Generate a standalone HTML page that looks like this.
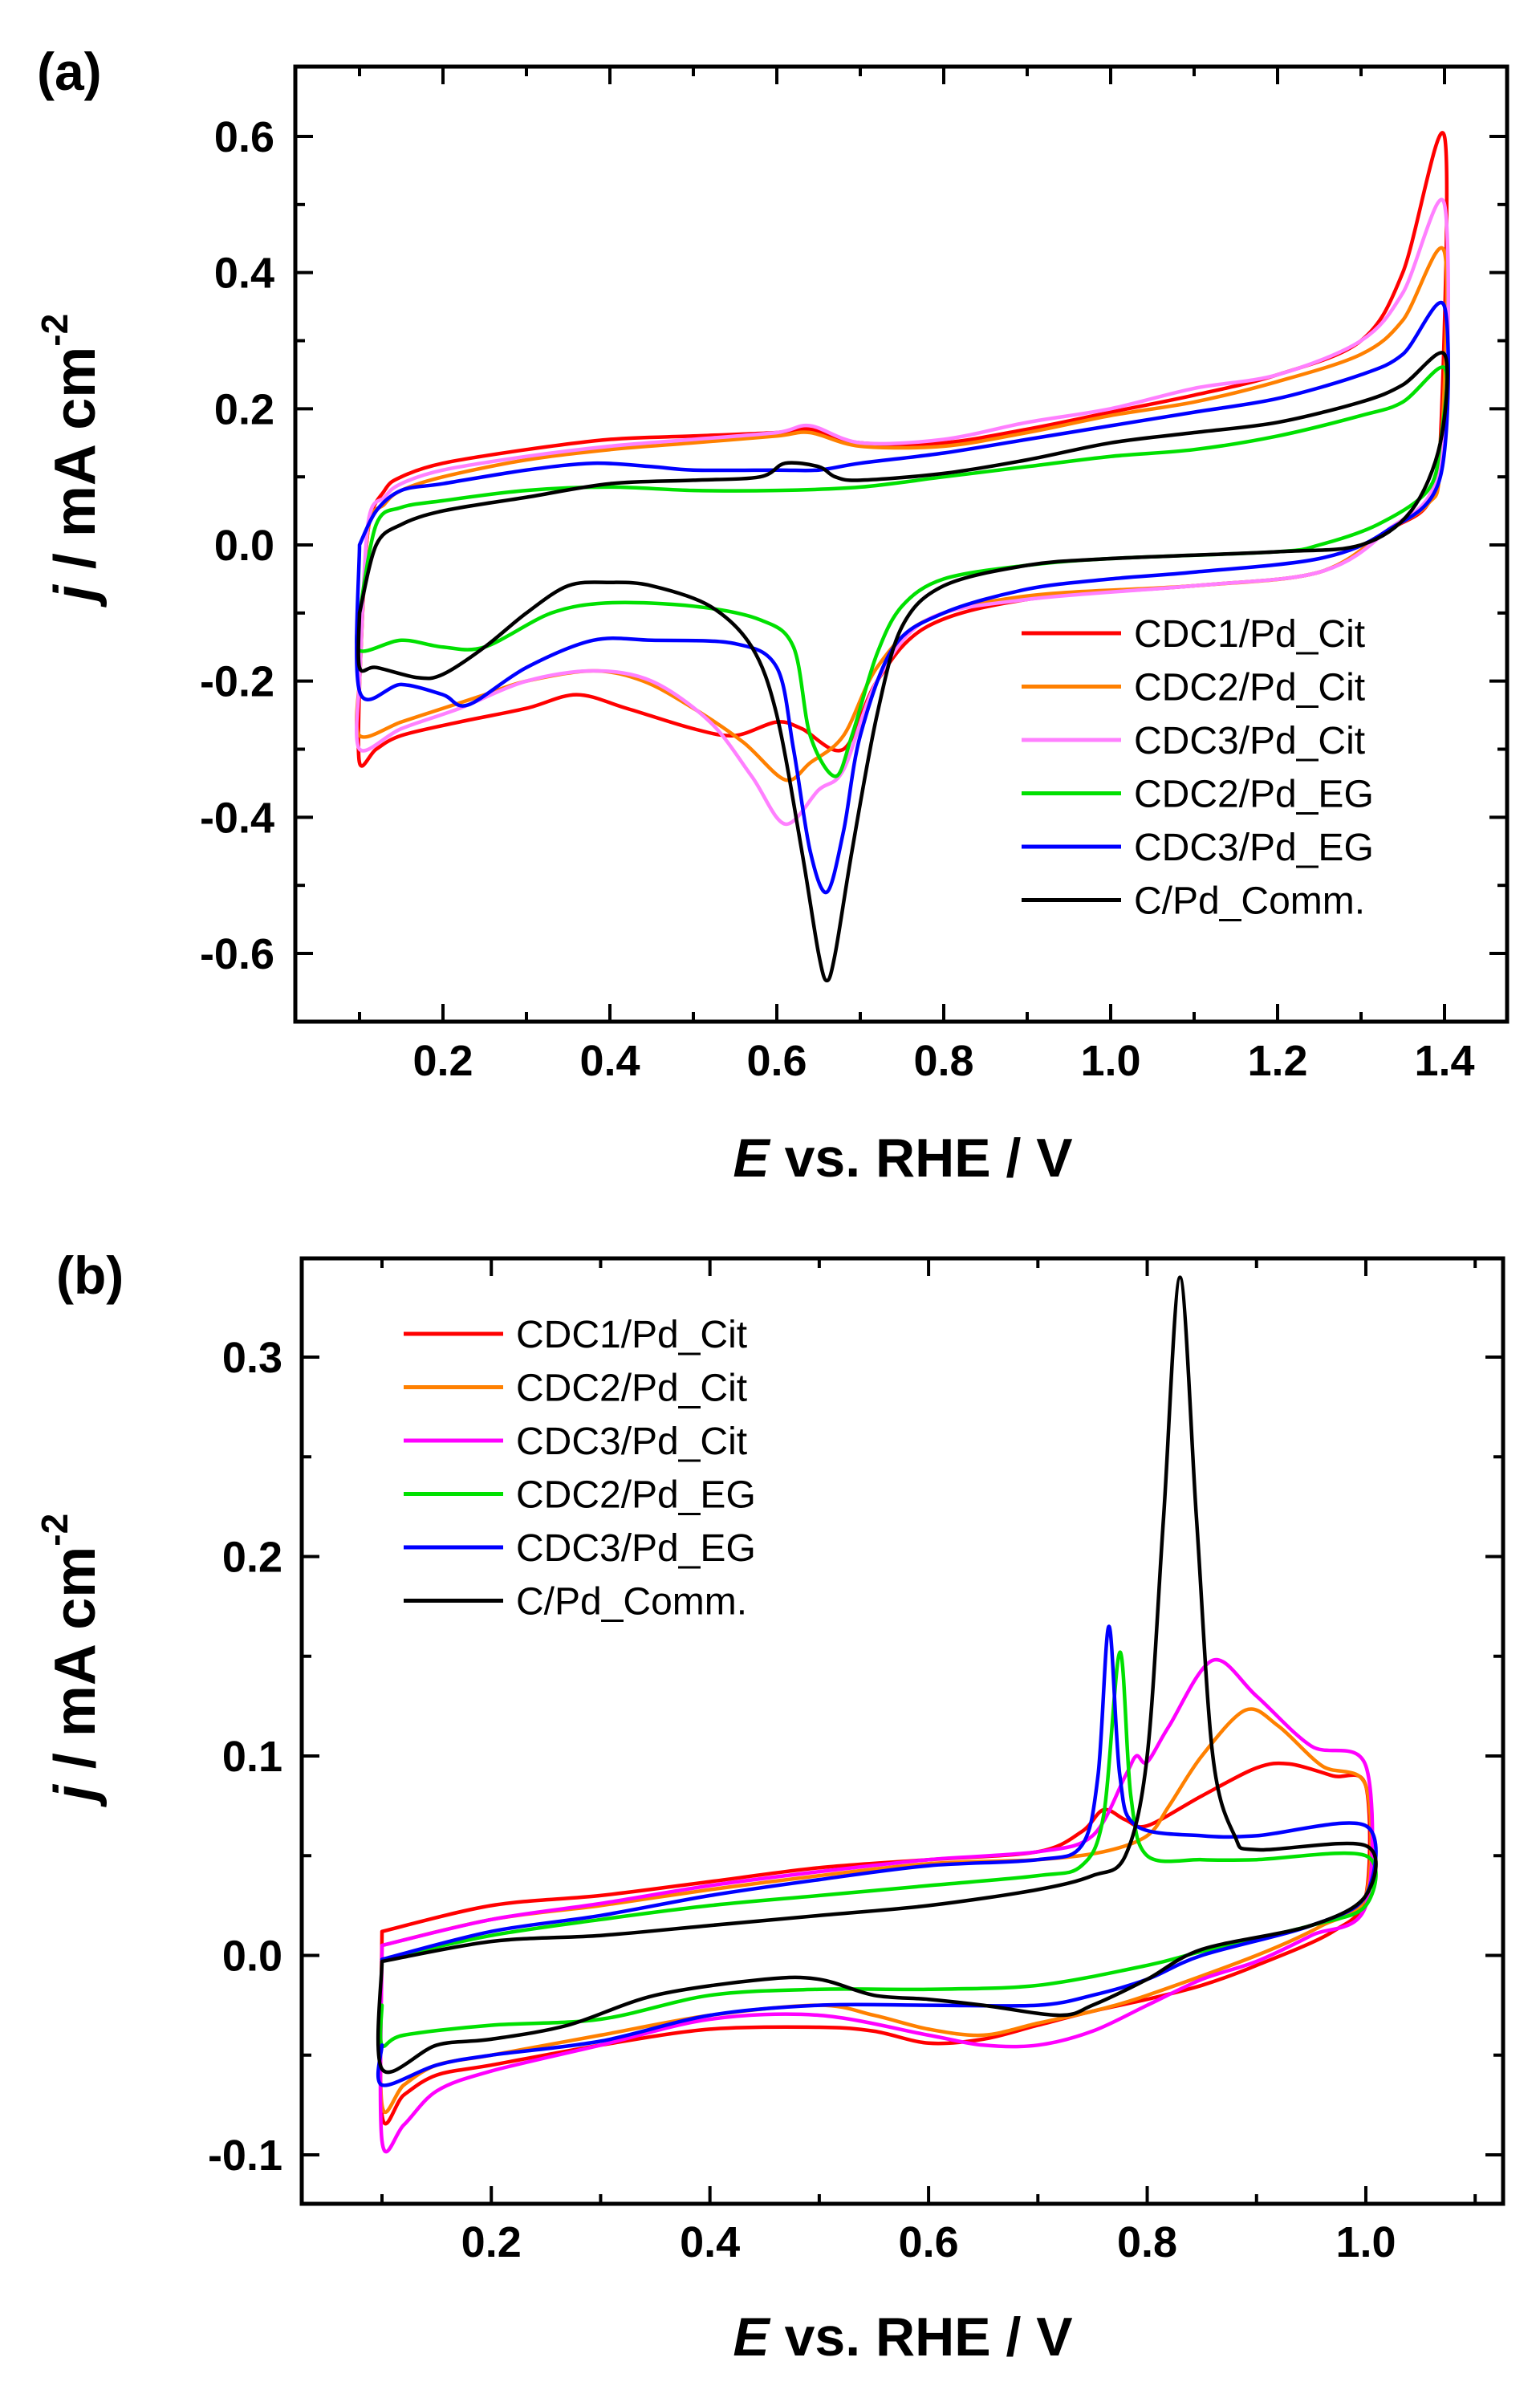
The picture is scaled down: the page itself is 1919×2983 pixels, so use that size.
<!DOCTYPE html>
<html><head><meta charset="utf-8"><style>
html,body{margin:0;padding:0;background:#fff;}
svg{display:block;font-family:"Liberation Sans",Arial,sans-serif;}
</style></head><body>
<svg id="fig" width="1919" height="2983" viewBox="0 0 1919 2983" xmlns="http://www.w3.org/2000/svg">
<rect width="1919" height="2983" fill="#fff"/>
<text x="46" y="112" font-size="66" font-weight="bold">(a)</text>
<text x="70" y="1612" font-size="66" font-weight="bold">(b)</text>
<g id="pa"></g>
<g id="pb"></g>
</svg>
<script>
// ---------- Panel (a) data ----------
const aSeriesNames = ["CDC1/Pd_Cit","CDC2/Pd_Cit","CDC3/Pd_Cit","CDC2/Pd_EG","CDC3/Pd_EG","C/Pd_Comm."];
const aColors = ["#ff0000","#ff8000","#ff80ff","#00e000","#0000ff","#000000"];
const aCdc1E = [0.1,0.11,0.13,0.15,0.2,0.3,0.4,0.5,0.6,0.64,0.7,0.8,0.9,1.0,1.1,1.2,1.3,1.35,1.4,1.395,1.38,1.33,1.25,1.1,0.9,0.78,0.72,0.68,0.63,0.6,0.55,0.5,0.42,0.36,0.3,0.22,0.15,0.12,0.1,0.1];
const aCdc1J = [-0.2,0.02,0.08,0.1,0.12,0.14,0.155,0.16,0.165,0.17,0.15,0.15,0.17,0.195,0.22,0.25,0.3,0.4,0.6,0.15,0.06,0.02,-0.04,-0.06,-0.08,-0.12,-0.2,-0.3,-0.27,-0.26,-0.28,-0.27,-0.24,-0.22,-0.24,-0.26,-0.28,-0.3,-0.32,-0.2];
const aCdc2E = [0.1,0.11,0.13,0.15,0.2,0.3,0.4,0.5,0.6,0.64,0.7,0.8,0.9,1.0,1.1,1.2,1.3,1.35,1.4,1.395,1.38,1.33,1.25,1.1,0.9,0.78,0.72,0.68,0.64,0.61,0.56,0.5,0.44,0.38,0.3,0.25,0.2,0.15,0.1,0.1];
const aCdc2J = [-0.2,0.02,0.06,0.08,0.1,0.125,0.14,0.15,0.16,0.165,0.145,0.145,0.165,0.19,0.21,0.24,0.28,0.33,0.43,0.12,0.06,0.02,-0.04,-0.06,-0.075,-0.11,-0.18,-0.28,-0.32,-0.345,-0.29,-0.24,-0.2,-0.185,-0.2,-0.22,-0.24,-0.26,-0.28,-0.2];
const aCdc3E = [0.1,0.11,0.13,0.15,0.2,0.3,0.4,0.5,0.6,0.64,0.7,0.8,0.9,1.0,1.1,1.2,1.3,1.35,1.4,1.395,1.33,1.25,1.1,0.9,0.78,0.72,0.68,0.65,0.61,0.57,0.52,0.45,0.38,0.3,0.22,0.15,0.1,0.1];
const aCdc3J = [-0.2,0.03,0.07,0.09,0.11,0.13,0.145,0.155,0.165,0.175,0.15,0.155,0.18,0.2,0.23,0.25,0.3,0.37,0.5,0.12,0.02,-0.04,-0.06,-0.08,-0.11,-0.2,-0.33,-0.36,-0.41,-0.34,-0.26,-0.2,-0.185,-0.2,-0.24,-0.27,-0.3,-0.2];
const aEg2E = [0.1,0.12,0.15,0.2,0.3,0.4,0.5,0.6,0.7,0.8,0.9,1.0,1.1,1.2,1.3,1.35,1.4,1.395,1.38,1.32,1.25,1.2,1.0,0.9,0.8,0.75,0.72,0.69,0.67,0.64,0.62,0.58,0.5,0.4,0.33,0.25,0.2,0.15,0.1,0.1];
const aEg2J = [-0.1,0.03,0.055,0.065,0.08,0.085,0.08,0.08,0.085,0.1,0.115,0.13,0.14,0.16,0.19,0.21,0.26,0.15,0.08,0.03,0.0,-0.01,-0.02,-0.03,-0.05,-0.09,-0.16,-0.28,-0.34,-0.28,-0.15,-0.11,-0.09,-0.085,-0.1,-0.15,-0.15,-0.14,-0.155,-0.1];
const aEg3E = [0.1,0.12,0.15,0.2,0.3,0.38,0.45,0.5,0.6,0.65,0.7,0.8,0.9,1.0,1.1,1.2,1.3,1.35,1.4,1.395,1.33,1.25,1.1,1.0,0.9,0.8,0.74,0.7,0.68,0.66,0.64,0.62,0.6,0.55,0.45,0.38,0.3,0.23,0.2,0.15,0.1,0.1];
const aEg3J = [0.0,0.05,0.08,0.09,0.11,0.12,0.115,0.11,0.11,0.11,0.12,0.135,0.155,0.175,0.195,0.215,0.25,0.28,0.35,0.1,0.02,-0.02,-0.04,-0.05,-0.065,-0.1,-0.15,-0.28,-0.42,-0.51,-0.45,-0.3,-0.18,-0.145,-0.14,-0.14,-0.18,-0.235,-0.22,-0.205,-0.215,0.0];
const aCommE = [0.1,0.12,0.15,0.2,0.3,0.4,0.5,0.58,0.61,0.65,0.67,0.7,0.8,0.9,1.0,1.1,1.2,1.3,1.35,1.4,1.395,1.36,1.3,1.2,1.0,0.9,0.8,0.75,0.72,0.69,0.67,0.66,0.65,0.63,0.6,0.57,0.52,0.45,0.4,0.35,0.3,0.25,0.2,0.17,0.12,0.1,0.1];
const aCommJ = [-0.1,0.0,0.03,0.05,0.07,0.09,0.095,0.1,0.12,0.115,0.1,0.095,0.105,0.125,0.15,0.165,0.18,0.21,0.235,0.28,0.15,0.05,0.0,-0.01,-0.02,-0.03,-0.06,-0.12,-0.25,-0.45,-0.6,-0.64,-0.6,-0.45,-0.25,-0.15,-0.09,-0.06,-0.055,-0.06,-0.1,-0.15,-0.19,-0.195,-0.18,-0.18,-0.1];
const aXTicks = [0.2,0.4,0.6,0.8,1.0,1.2,1.4];
const aYTicks = [-0.6,-0.4,-0.2,0.0,0.2,0.4,0.6];

// ---------- Panel (b) data ----------
const bSeriesNames = ["CDC1/Pd_Cit","CDC2/Pd_Cit","CDC3/Pd_Cit","CDC2/Pd_EG","CDC3/Pd_EG","C/Pd_Comm."];
const bColors = ["#ff0000","#ff8000","#ff00ff","#00e000","#0000ff","#000000"];
const bCdc1E = [0.1,0.2,0.3,0.4,0.5,0.6,0.7,0.74,0.76,0.78,0.8,0.85,0.9,0.93,0.97,1.0,1.0,0.97,0.9,0.85,0.8,0.75,0.7,0.65,0.6,0.55,0.5,0.4,0.3,0.2,0.15,0.12,0.1,0.1];
const bCdc1J = [0.012,0.025,0.03,0.037,0.044,0.048,0.052,0.062,0.073,0.068,0.065,0.08,0.094,0.096,0.09,0.085,0.03,0.012,-0.005,-0.015,-0.022,-0.028,-0.035,-0.042,-0.044,-0.038,-0.036,-0.037,-0.045,-0.055,-0.06,-0.07,-0.08,0.012];
const bCdc2E = [0.1,0.2,0.3,0.4,0.5,0.6,0.7,0.76,0.8,0.82,0.85,0.89,0.92,0.96,1.0,1.0,0.96,0.9,0.8,0.75,0.7,0.65,0.6,0.55,0.5,0.4,0.3,0.2,0.15,0.12,0.1,0.1];
const bCdc2J = [0.005,0.018,0.025,0.033,0.04,0.046,0.048,0.052,0.06,0.075,0.1,0.123,0.115,0.095,0.085,0.03,0.015,0.0,-0.02,-0.028,-0.034,-0.04,-0.037,-0.03,-0.025,-0.03,-0.04,-0.05,-0.055,-0.065,-0.075,0.005];
const bCdc3E = [0.1,0.2,0.3,0.4,0.5,0.6,0.7,0.75,0.78,0.79,0.8,0.82,0.86,0.9,0.95,1.0,1.0,0.95,0.9,0.85,0.8,0.75,0.7,0.65,0.6,0.5,0.4,0.3,0.2,0.15,0.12,0.1,0.1];
const bCdc3J = [0.005,0.018,0.026,0.035,0.042,0.048,0.052,0.06,0.09,0.1,0.097,0.115,0.148,0.13,0.105,0.095,0.025,0.01,-0.003,-0.012,-0.025,-0.038,-0.045,-0.045,-0.04,-0.03,-0.032,-0.045,-0.058,-0.068,-0.085,-0.093,0.005];
const bEg2E = [0.1,0.2,0.3,0.4,0.5,0.6,0.7,0.74,0.76,0.775,0.785,0.8,0.85,0.9,1.0,1.0,0.95,0.85,0.8,0.7,0.6,0.5,0.4,0.3,0.2,0.12,0.1,0.1];
const bEg2J = [-0.002,0.01,0.018,0.025,0.03,0.035,0.04,0.045,0.07,0.152,0.08,0.05,0.048,0.048,0.05,0.025,0.015,0.002,-0.005,-0.015,-0.017,-0.017,-0.02,-0.032,-0.035,-0.04,-0.045,-0.025];
const bEg3E = [0.1,0.2,0.3,0.4,0.5,0.6,0.7,0.74,0.755,0.765,0.775,0.79,0.85,0.9,1.0,1.0,0.95,0.85,0.8,0.75,0.7,0.6,0.5,0.4,0.3,0.2,0.15,0.1,0.1];
const bEg3J = [-0.002,0.012,0.02,0.03,0.038,0.045,0.048,0.055,0.09,0.165,0.09,0.065,0.06,0.06,0.065,0.03,0.015,0.0,-0.012,-0.02,-0.025,-0.025,-0.025,-0.03,-0.043,-0.05,-0.055,-0.065,-0.045];
const bCommE = [0.1,0.2,0.3,0.4,0.5,0.6,0.7,0.75,0.78,0.8,0.815,0.83,0.845,0.86,0.88,0.9,1.0,1.0,0.95,0.85,0.8,0.75,0.72,0.65,0.6,0.55,0.5,0.45,0.35,0.27,0.2,0.15,0.1,0.1];
const bCommJ = [-0.003,0.007,0.01,0.015,0.02,0.025,0.033,0.04,0.05,0.1,0.22,0.34,0.22,0.1,0.06,0.053,0.055,0.03,0.015,0.003,-0.012,-0.025,-0.03,-0.025,-0.022,-0.02,-0.012,-0.012,-0.02,-0.035,-0.042,-0.045,-0.057,-0.003];
const bXTicks = [0.2,0.4,0.6,0.8,1.0];
const bYTicks = [-0.1,0.0,0.1,0.2,0.3];

const NS = "http://www.w3.org/2000/svg";
function mk(parent, tag, attrs, text){
  const el = document.createElementNS(NS, tag);
  for (const k in attrs) el.setAttribute(k, attrs[k]);
  if (text !== undefined) el.textContent = text;
  parent.appendChild(el);
  return el;
}

function smoothPath(P){
  let d = "M" + P[0][0].toFixed(1) + "," + P[0][1].toFixed(1);
  const t = 0.16;
  for (let i = 0; i < P.length - 1; i++){
    const p0 = P[Math.max(0, i - 1)], p1 = P[i], p2 = P[i + 1], p3 = P[Math.min(P.length - 1, i + 2)];
    const c1x = p1[0] + (p2[0] - p0[0]) * t, c1y = p1[1] + (p2[1] - p0[1]) * t;
    const c2x = p2[0] - (p3[0] - p1[0]) * t, c2y = p2[1] - (p3[1] - p1[1]) * t;
    d += " C" + c1x.toFixed(1) + "," + c1y.toFixed(1) + " " + c2x.toFixed(1) + "," + c2y.toFixed(1) + " " + p2[0].toFixed(1) + "," + p2[1].toFixed(1);
  }
  return d;
}

function drawPanel(g, cfg){
  const sx = v => cfg.x0 + (v - cfg.xmin) / (cfg.xmax - cfg.xmin) * (cfg.x1 - cfg.x0);
  const sy = v => cfg.y1 - (v - cfg.ymin) / (cfg.ymax - cfg.ymin) * (cfg.y1 - cfg.y0);
  cfg.series.forEach((s, i) => {
    const P = s.E.map((e, k) => [sx(e), sy(s.J[k])]);
    const pl = mk(g, "path", {d: smoothPath(P), fill: "none", stroke: s.color, "stroke-width": 4.5, "stroke-linejoin": "round", "stroke-linecap": "round"});
    
    
  });
  const fr = mk(g, "rect", {x: cfg.x0, y: cfg.y0, width: cfg.x1 - cfg.x0, height: cfg.y1 - cfg.y0, fill: "none", stroke: "#000", "stroke-width": 5});
  
  
  cfg.xMinor.forEach(v => {
    const X = sx(v);
    const major = cfg.xTicks.some(t => Math.abs(t - v) < 1e-6);
    const L = major ? 22 : 12;
    const t1 = mk(g, "line", {x1: X, y1: cfg.y1, x2: X, y2: cfg.y1 - L, stroke: "#000", "stroke-width": 4});
    
    
    const t2 = mk(g, "line", {x1: X, y1: cfg.y0, x2: X, y2: cfg.y0 + L, stroke: "#000", "stroke-width": 4});
    
    
  });
  cfg.xTicks.forEach(v => {
    const lb = mk(g, "text", {x: sx(v), y: cfg.xLabelY, "font-size": 54, "font-weight": "bold", "text-anchor": "middle"}, v.toFixed(1));
    
    
  });
  cfg.yMinor.forEach(v => {
    const Y = sy(v);
    const major = cfg.yTicks.some(t => Math.abs(t - v) < 1e-6);
    const L = major ? 22 : 12;
    const t1 = mk(g, "line", {x1: cfg.x0, y1: Y, x2: cfg.x0 + L, y2: Y, stroke: "#000", "stroke-width": 4});
    
    
    const t2 = mk(g, "line", {x1: cfg.x1, y1: Y, x2: cfg.x1 - L, y2: Y, stroke: "#000", "stroke-width": 4});
    
    
  });
  cfg.yTicks.forEach(v => {
    const lb = mk(g, "text", {x: cfg.yLabelX, y: sy(v) + 19, "font-size": 54, "font-weight": "bold", "text-anchor": "end"}, v.toFixed(cfg.yDec));
    
    
  });
  const xt = mk(g, "text", {x: cfg.xTitleX, y: cfg.xTitleY, "font-size": 68, "font-weight": "bold", "text-anchor": "middle"});
  
  
  mk(xt, "tspan", {"font-style": "italic"}, "E");
  mk(xt, "tspan", {}, " vs. RHE / V");
  const yt = mk(g, "text", {transform: "translate(" + cfg.yTitleX + "," + cfg.yTitleY + ") rotate(-90)", "font-size": 72, "font-weight": "bold", "text-anchor": "middle"});
  
  
  mk(yt, "tspan", {"font-style": "italic"}, "j");
  mk(yt, "tspan", {}, " / mA cm");
  mk(yt, "tspan", {dy: -34, "font-size": 46}, "-2");
  cfg.series.forEach((s, i) => {
    const Y = cfg.legY + i * cfg.legDy;
    const ln = mk(g, "line", {x1: cfg.legX, y1: Y, x2: cfg.legX + 124, y2: Y, stroke: s.color, "stroke-width": 5});
    
    
    const tx = mk(g, "text", {x: cfg.legX + 140, y: Y + 17, "font-size": 48}, s.name);
    
    
  });
}

function steps(a, b, d){ const r = []; for (let v = a; v <= b + 1e-9; v += d) r.push(Math.round(v * 1000) / 1000); return r; }

drawPanel(document.getElementById("pa"), {
  x0: 368, x1: 1878, y0: 83, y1: 1273,
  xmin: 0.2 - 184/1040, xmax: 0.2 + 1326/1040, ymin: -0.6 - 85/848.3, ymax: 0.6 + 87/848.3,
  xTicks: aXTicks, yTicks: aYTicks, xMinor: steps(0.1, 1.4, 0.1), yMinor: steps(-0.6, 0.6, 0.1),
  xLabelY: 1340, yLabelX: 342, yDec: 1,
  xTitleX: 1125, xTitleY: 1466, yTitleX: 118, yTitleY: 570,
  legX: 1273, legY: 789, legDy: 66.5,
  series: [
    {name: aSeriesNames[0], color: aColors[0], E: aCdc1E, J: aCdc1J},
    {name: aSeriesNames[1], color: aColors[1], E: aCdc2E, J: aCdc2J},
    {name: aSeriesNames[2], color: aColors[2], E: aCdc3E, J: aCdc3J},
    {name: aSeriesNames[3], color: aColors[3], E: aEg2E, J: aEg2J},
    {name: aSeriesNames[4], color: aColors[4], E: aEg3E, J: aEg3J},
    {name: aSeriesNames[5], color: aColors[5], E: aCommE, J: aCommJ}
  ]
});
drawPanel(document.getElementById("pb"), {
  x0: 376, x1: 1873, y0: 1568, y1: 2746,
  xmin: 0.1 - 100/1362.2, xmax: 0.1 + 1397/1362.2, ymin: -0.1 - 61/2485, ymax: 0.3 + 123/2485,
  xTicks: bXTicks, yTicks: bYTicks, xMinor: steps(0.1, 1.1, 0.1), yMinor: steps(-0.1, 0.3, 0.05),
  xLabelY: 2812, yLabelX: 352, yDec: 1,
  xTitleX: 1125, xTitleY: 2935, yTitleX: 118, yTitleY: 2065,
  legX: 503, legY: 1662, legDy: 66.5,
  series: [
    {name: bSeriesNames[0], color: bColors[0], E: bCdc1E, J: bCdc1J},
    {name: bSeriesNames[1], color: bColors[1], E: bCdc2E, J: bCdc2J},
    {name: bSeriesNames[2], color: bColors[2], E: bCdc3E, J: bCdc3J},
    {name: bSeriesNames[3], color: bColors[3], E: bEg2E, J: bEg2J},
    {name: bSeriesNames[4], color: bColors[4], E: bEg3E, J: bEg3J},
    {name: bSeriesNames[5], color: bColors[5], E: bCommE, J: bCommJ}
  ]
});
</script>
</body></html>
